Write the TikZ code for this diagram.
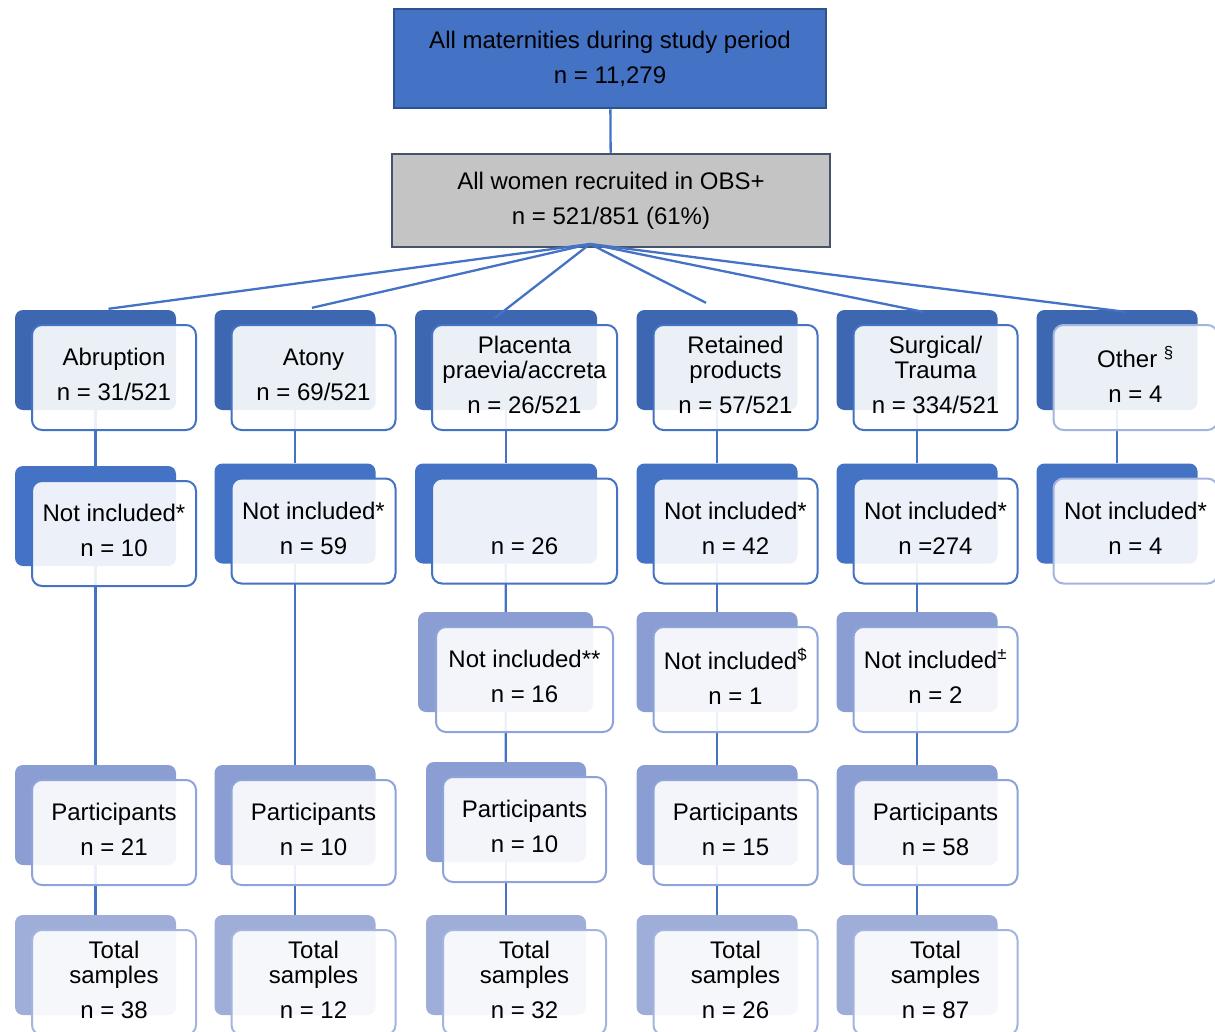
\documentclass[tikz,border=0pt]{standalone}
\usepackage{fontspec}
\setmainfont{Liberation Sans}
\usetikzlibrary{positioning,backgrounds}

\definecolor{topblue}{HTML}{4472C4}
\definecolor{topedge}{HTML}{2F528F}
\definecolor{greyfill}{HTML}{C4C4C4}
\definecolor{greyedge}{HTML}{44546A}
\definecolor{catback}{HTML}{3D67B0}
\definecolor{exback}{HTML}{4472C4}
\definecolor{midback}{HTML}{8A9ED3}
\definecolor{paleback}{HTML}{9EAED9}
\definecolor{darkline}{HTML}{4472C4}
\definecolor{midline}{HTML}{8EA4D8}
\definecolor{paleline}{HTML}{A3B4DF}
\definecolor{linkblue}{HTML}{4472C4}

\begin{document}
\begin{tikzpicture}[x=1pt, y=-1pt,
    every node/.style={font=\fontsize{24}{25}\selectfont, align=center},
    back/.style={rectangle, rounded corners=8pt, minimum width=161pt, minimum height=100pt, inner sep=0pt},
    front/.style={rectangle, rounded corners=10pt, minimum width=164pt, minimum height=105pt, inner sep=2pt,
        text depth=6pt, fill=white, fill opacity=0.9, text opacity=1, line width=2pt},
    catstack/.style={back, fill=catback},
    exstack/.style={back, fill=exback},
    midstack/.style={back, fill=midback},
    palestack/.style={back, fill=paleback},
    darkfront/.style={front, draw=darkline},
    midfront/.style={front, draw=midline},
    palefront/.style={front, draw=paleline},
    link/.style={draw=linkblue, line width=2.3pt}
]
    \useasboundingbox (0,0) rectangle (1215,1031);

    % Top boxes
    \node[rectangle, minimum width=432pt, minimum height=99pt, fill=topblue, draw=topedge, line width=2.5pt]
        (all) at (610,58.5) {All maternities during study period\\[10pt] n = 11,279};
    \node[rectangle, minimum width=438pt, minimum height=93pt, fill=greyfill, draw=greyedge, line width=2.5pt]
        (obs) at (611,200.5) {All women recruited in OBS+\\[10pt] n = 521/851 (61\%)};

    % Level 1
    \node[catstack] (abr-b) at (95.5,360) {};
    \node[darkfront] (abr) at ([shift={(18.5,17.5)}]abr-b) {Abruption\\[10pt] n = 31/521};
    \node[catstack] (aton-b) at (295,360) {};
    \node[darkfront] (aton) at ([shift={(18.5,17.5)}]aton-b) {Atony\\[10pt] n = 69/521};
    \node[catstack, minimum width=182pt] (plac-b) at (506,360) {};
    \node[darkfront, minimum width=185pt] (plac) at ([shift={(18.5,17.5)}]plac-b) {Placenta\\praevia/accreta\\[10pt] n = 26/521};
    \node[catstack] (retp-b) at (717,360) {};
    \node[darkfront] (retp) at ([shift={(18.5,17.5)}]retp-b) {Retained\\products\\[10pt] n = 57/521};
    \node[catstack] (surg-b) at (917,360) {};
    \node[darkfront] (surg) at ([shift={(18.5,17.5)}]surg-b) {Surgical/\\Trauma\\[10pt] n = 334/521};
    \node[catstack] (oth-b) at (1117,360) {};
    \node[palefront] (oth) at ([shift={(18.5,17.5)}]oth-b) {Other \textsuperscript{\S}\\[10pt] n = 4};

    % Level 2
    \node[exstack] (abrni-b) at (95.5,516) {};
    \node[darkfront] (abrni) at ([shift={(18.5,17.5)}]abrni-b) {Not included*\\[10pt] n = 10};
    \node[exstack] (atonni-b) at (295,513.5) {};
    \node[darkfront] (atonni) at ([shift={(18.5,17.5)}]atonni-b) {Not included*\\[10pt] n = 59};
    \node[exstack, minimum width=182pt] (placni-b) at (506,513.5) {};
    \node[darkfront, minimum width=185pt] (placni) at ([shift={(18.5,17.5)}]placni-b) {\strut\\[10pt] n = 26};
    \node[exstack] (retpni-b) at (717,513.5) {};
    \node[darkfront] (retpni) at ([shift={(18.5,17.5)}]retpni-b) {Not included*\\[10pt] n = 42};
    \node[exstack] (surgni-b) at (917,513.5) {};
    \node[darkfront] (surgni) at ([shift={(18.5,17.5)}]surgni-b) {Not included*\\[10pt] n =274};
    \node[exstack] (othni-b) at (1117,513.5) {};
    \node[palefront] (othni) at ([shift={(18.5,17.5)}]othni-b) {Not included*\\[10pt] n = 4};

    % Level 3
    \node[midstack, minimum width=175pt] (placex-b) at (505.5,662) {};
    \node[midfront, minimum width=177pt] (placex) at ([shift={(19,17.5)}]placex-b) {Not included**\\[10pt] n = 16};
    \node[midstack] (retpex-b) at (717,662) {};
    \node[midfront] (retpex) at ([shift={(18.5,17.5)}]retpex-b) {Not included\textsuperscript{\$}\\[10pt] n = 1};
    \node[midstack] (surgex-b) at (917,662) {};
    \node[midfront] (surgex) at ([shift={(18.5,17.5)}]surgex-b) {Not included\textsuperscript{±}\\[10pt] n = 2};

    % Level 4
    \node[midstack] (abrpt-b) at (95.5,815) {};
    \node[midfront] (abrpt) at ([shift={(18.5,17.5)}]abrpt-b) {Participants\\[10pt] n = 21};
    \node[midstack] (atonpt-b) at (295,815) {};
    \node[midfront] (atonpt) at ([shift={(18.5,17.5)}]atonpt-b) {Participants\\[10pt] n = 10};
    \node[midstack, minimum width=160pt] (placpt-b) at (506,812) {};
    \node[midfront, minimum width=163pt] (placpt) at ([shift={(18.5,17.5)}]placpt-b) {Participants\\[10pt] n = 10};
    \node[midstack] (retppt-b) at (717,815) {};
    \node[midfront] (retppt) at ([shift={(18.5,17.5)}]retppt-b) {Participants\\[10pt] n = 15};
    \node[midstack] (surgpt-b) at (917,815) {};
    \node[midfront] (surgpt) at ([shift={(18.5,17.5)}]surgpt-b) {Participants\\[10pt] n = 58};

    % Level 5
    \node[palestack] (abrts-b) at (95.5,965) {};
    \node[palefront] (abrts) at ([shift={(18.5,17.5)}]abrts-b) {Total\\samples\\[10pt] n = 38};
    \node[palestack] (atonts-b) at (295,965) {};
    \node[palefront] (atonts) at ([shift={(18.5,17.5)}]atonts-b) {Total\\samples\\[10pt] n = 12};
    \node[palestack, minimum width=160pt] (placts-b) at (506,965) {};
    \node[palefront, minimum width=163pt] (placts) at ([shift={(18.5,17.5)}]placts-b) {Total\\samples\\[10pt] n = 32};
    \node[palestack] (retpts-b) at (717,965) {};
    \node[palefront] (retpts) at ([shift={(18.5,17.5)}]retpts-b) {Total\\samples\\[10pt] n = 26};
    \node[palestack] (surgts-b) at (917,965) {};
    \node[palefront] (surgts) at ([shift={(18.5,17.5)}]surgts-b) {Total\\samples\\[10pt] n = 87};

    % Connectors
    \coordinate (hub) at (590,244);
    \begin{scope}[on background layer]
        \draw[link] (all) -- (obs);
        \foreach \a/\b in {abr-b/abrni-b, abrni-b/abrpt-b, abrpt-b/abrts-b,
                aton-b/atonni-b, atonni-b/atonpt-b, atonpt-b/atonts-b,
                plac-b/placni-b, placni-b/placex-b, placex-b/placpt-b, placpt-b/placts-b,
                retp-b/retpni-b, retpni-b/retpex-b, retpex-b/retppt-b, retppt-b/retpts-b,
                surg-b/surgni-b, surgni-b/surgex-b, surgex-b/surgpt-b, surgpt-b/surgts-b,
                oth-b/othni-b}
            \draw[link] (\a) -- (\b);
    \end{scope}
    \draw[link] (hub) -- ([xshift=13pt, yshift=1pt]abr-b.north);
    \draw[link] (hub) -- ([xshift=17pt, yshift=2pt]aton-b.north);
    \draw[link] (hub) -- ([xshift=-11pt, yshift=-8pt]plac-b.north);
    \draw[link] (hub) -- ([xshift=-11pt, yshift=7pt]retp-b.north);
    \draw[link] (hub) -- ([xshift=6pt, yshift=-2pt]surg-b.north);
    \draw[link] (hub) -- ([xshift=8pt, yshift=-2pt]oth-b.north);
\end{tikzpicture}
\end{document}
